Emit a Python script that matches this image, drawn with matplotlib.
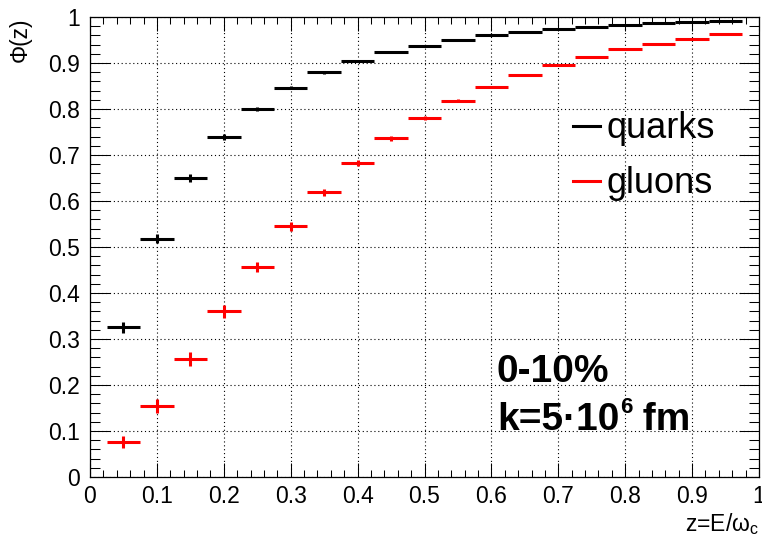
import matplotlib
matplotlib.use("Agg")
import matplotlib.pyplot as plt
from matplotlib.lines import Line2D
from matplotlib.ticker import MultipleLocator, FuncFormatter
import numpy as np

plt.rcParams['font.family'] = ['Liberation Sans', 'DejaVu Sans']
plt.rcParams['mathtext.fontset'] = 'custom'
plt.rcParams['mathtext.rm'] = 'Liberation Sans'
plt.rcParams['mathtext.it'] = 'Liberation Sans'
plt.rcParams['mathtext.bf'] = 'Liberation Sans:bold'

z = [0.05, 0.10, 0.15, 0.20, 0.25, 0.30, 0.35, 0.40, 0.45, 0.50,
     0.55, 0.60, 0.65, 0.70, 0.75, 0.80, 0.85, 0.90, 0.95]
bin_half = 0.025
quarks = [0.326, 0.518, 0.650, 0.739, 0.800, 0.846, 0.880, 0.905, 0.923, 0.938,
          0.950, 0.960, 0.967, 0.973, 0.978, 0.983, 0.986, 0.989, 0.991]
quarks_err = [0.012, 0.010, 0.008, 0.006, 0.004, 0.003, 0.003, 0.002, 0.002, 0.002,
              0.002, 0.001, 0.001, 0.001, 0.001, 0.001, 0.001, 0.001, 0.001]
gluons = [0.076, 0.155, 0.256, 0.360, 0.456, 0.545, 0.619, 0.683, 0.736, 0.780,
          0.818, 0.848, 0.874, 0.896, 0.914, 0.930, 0.942, 0.953, 0.963]
gluons_err = [0.014, 0.015, 0.015, 0.014, 0.011, 0.010, 0.008, 0.007, 0.005, 0.004,
              0.003, 0.003, 0.002, 0.002, 0.002, 0.002, 0.001, 0.001, 0.001]

W, H = 762, 539
fig = plt.figure(figsize=(W / 100, H / 100), dpi=100)
L, R, T, B = 90, 759, 17, 477
ax = fig.add_axes([L / W, (H - B) / H, (R - L) / W, (B - T) / H])

lw = 2.2
ax.errorbar(z, quarks, xerr=bin_half, yerr=quarks_err, fmt='none',
            ecolor='black', elinewidth=lw, capsize=0, zorder=3)
ax.errorbar(z, gluons, xerr=bin_half, yerr=gluons_err, fmt='none',
            ecolor='#ff0000', elinewidth=lw, capsize=0, zorder=3)

ax.set_xlim(0, 1)
ax.set_ylim(0, 1)
ax.xaxis.set_major_locator(MultipleLocator(0.1))
ax.xaxis.set_minor_locator(MultipleLocator(0.02))
ax.yaxis.set_major_locator(MultipleLocator(0.1))
ax.yaxis.set_minor_locator(MultipleLocator(0.02))
fmt = FuncFormatter(lambda v, p: '%g' % round(v, 2))
ax.xaxis.set_major_formatter(fmt)
ax.yaxis.set_major_formatter(fmt)

ax.tick_params(axis='both', which='both', direction='in', top=True, right=True,
               width=0.75, labelsize=16.5, color='black')
ax.tick_params(axis='x', which='major', length=10, pad=6)
ax.tick_params(axis='x', which='minor', length=5)
ax.tick_params(axis='y', which='major', length=14.4, pad=7)
ax.tick_params(axis='y', which='minor', length=7.2)
for s in ax.spines.values():
    s.set_linewidth(0.9)

ax.grid(True, which='major', color='black', linestyle=(0, (1, 2.5)), linewidth=0.8)
ax.set_axisbelow(True)

ax.set_xlabel(r'z=E/$\omega_{\mathrm{c}}$', fontsize=16.5, loc='right')
ax.xaxis.set_label_coords(1.0, -0.075)
ax.set_ylabel('Φ(z)', fontsize=16.5, loc='top')
ax.yaxis.set_label_coords(-0.087, 1.0)

handles = [Line2D([], [], color='black', lw=lw),
           Line2D([], [], color='#ff0000', lw=lw)]
ax.legend(handles, ['quarks', 'gluons'], loc='upper left',
          bbox_to_anchor=(0.722, 0.795), frameon=False, fontsize=26,
          handlelength=0.75, handletextpad=0.18, borderpad=0,
          borderaxespad=0, labelspacing=0.55)

tx = (497 - L) / (R - L)
ax.text(tx, (B - 382) / (B - T), '0-10%', fontsize=28,
        fontweight='bold', ha='left', va='baseline', transform=ax.transAxes)
t1 = ax.text(tx, (B - 430) / (B - T), 'k=5·10',
             fontsize=28, fontweight='bold', ha='left', va='baseline',
             transform=ax.transAxes)
t2 = ax.annotate('6', xy=(1, 1), xycoords=t1, xytext=(0.5, 3.5),
                 textcoords='offset points', fontsize=16, fontweight='bold',
                 ha='left', va='top')
ax.annotate(' fm', xy=(1, 0), xycoords=(t2, t1), xytext=(0, 0),
            textcoords='offset points', fontsize=28, fontweight='bold',
            ha='left', va='bottom')

fig.savefig('out.png', dpi=100)
